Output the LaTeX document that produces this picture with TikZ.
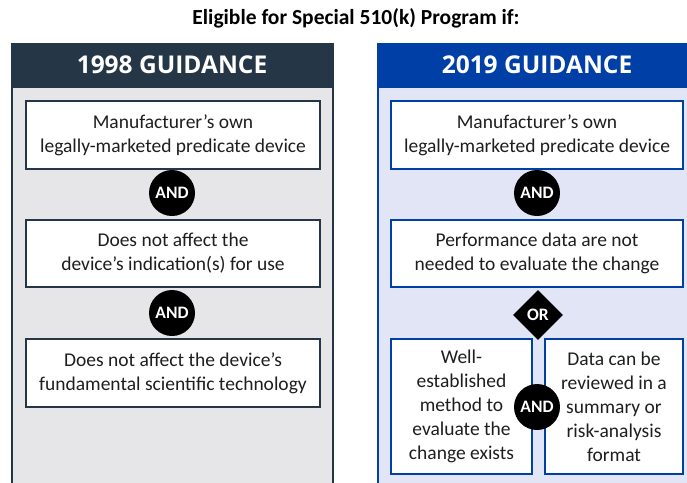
\documentclass[tikz,border=0pt]{standalone}
\usepackage{fontspec}
\setmainfont{Carlito}
\newfontfamily\headfont{Open Sans}
\usetikzlibrary{shapes.geometric}
\definecolor{slate}{HTML}{253746}
\definecolor{slatebg}{HTML}{E6E6E9}
\definecolor{royal}{HTML}{003FA6}
\definecolor{royalbg}{HTML}{E1E5F5}
\definecolor{ink}{HTML}{1E1E1E}
\tikzset{
  panel/.style={line width=2pt},
  crit/.style={draw, fill=white, line width=2pt, text=ink, align=center,
    font=\fontsize{19.5}{24}\selectfont, inner sep=0pt},
  andop/.style={circle, fill=black, text=white, minimum size=46pt, inner sep=0pt,
    font=\bfseries\fontsize{17.5}{18}\selectfont},
  orop/.style={diamond, fill=black, text=white, minimum size=50pt, inner sep=0pt,
    font=\bfseries\fontsize{17.5}{18}\selectfont},
  headtxt/.style={text=white, font=\headfont\bfseries\fontsize{24.5}{28}\selectfont}
}
\begin{document}
\begin{tikzpicture}[x=1pt,y=-1pt]
\useasboundingbox (0,0) rectangle (687,482);
\clip (0,0) rectangle (687,482);
\node[font=\bfseries\fontsize{21.5}{24}\selectfont, text=black] (title) at (356,18) {Eligible for Special 510(k) Program if:};

% 1998 column
\draw[panel, draw=slate, fill=slatebg] (12,44) rectangle (333,495);
\fill[slate] (12,44) rectangle (333,88);
\node[headtxt] (h98) at (172,65) {1998 GUIDANCE};
\node[crit, draw=slate, minimum width=294pt, minimum height=68pt] (a1) at (173,135)
  {Manufacturer’s own\\legally-marketed predicate device};
\node[andop] (and1) at (172,193) {AND};
\node[crit, draw=slate, minimum width=294pt, minimum height=67pt] (a2) at (173,253.5)
  {Does not affect the\\device’s indication(s) for use};
\node[andop] (and2) at (172,313) {AND};
\node[crit, draw=slate, minimum width=294pt, minimum height=68pt] (a3) at (173,373)
  {Does not affect the device’s\\fundamental scientific technology};

% 2019 column
\draw[panel, draw=royal, fill=royalbg] (378,44) rectangle (698,495);
\fill[royal] (378,44) rectangle (698,88);
\node[headtxt] (h19) at (537,65) {2019 GUIDANCE};
\node[crit, draw=royal, minimum width=292pt, minimum height=68pt] (b1) at (537,135)
  {Manufacturer’s own\\legally-marketed predicate device};
\node[andop] (and3) at (537,193) {AND};
\node[crit, draw=royal, minimum width=292pt, minimum height=67pt] (b2) at (537,253.5)
  {Performance data are not\\needed to evaluate the change};
\node[orop] (or1) at (538,315) {OR};
\node[crit, draw=royal, minimum width=141pt, minimum height=135pt] (b3) at (461.5,406.5)
  {Well-\\established\\method to\\evaluate the\\change exists};
\node[crit, draw=royal, minimum width=138pt, minimum height=135pt] (b4) at (614,406.5)
  {Data can be\\reviewed in a\\summary or\\risk-analysis\\format};
\node[andop] (and4) at (537,407) {AND};
\end{tikzpicture}
\end{document}
